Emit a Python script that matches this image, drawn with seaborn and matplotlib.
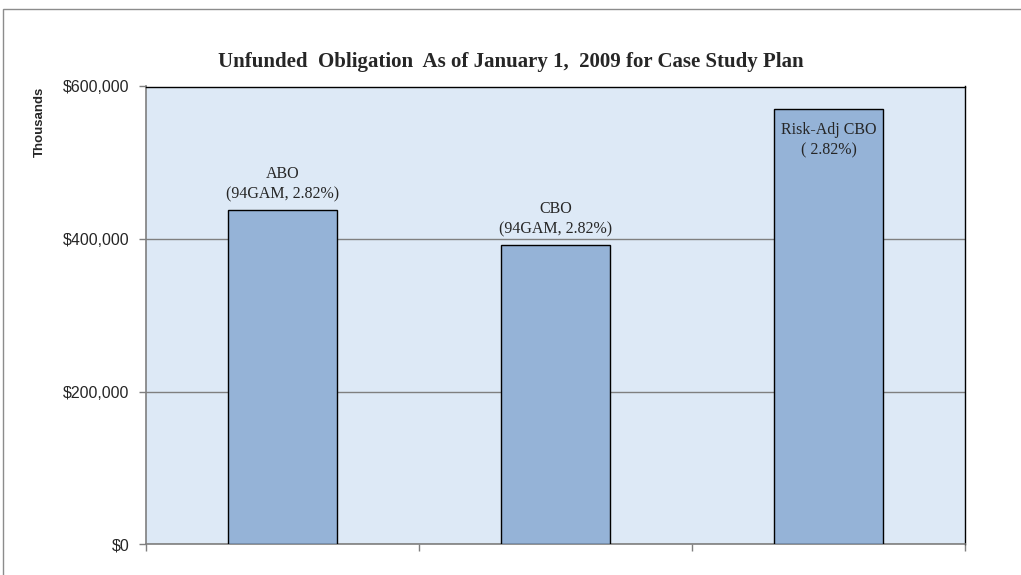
import matplotlib
matplotlib.use("Agg")
import matplotlib.pyplot as plt
import matplotlib.ticker as mticker
from matplotlib.patches import Rectangle
import seaborn as sns
import pandas as pd

# ── data (thousands of dollars) ──────────────────────────────
categories = ["ABO", "CBO", "Risk-Adj CBO"]
values = [438000, 392000, 570000]
bar_labels = ["ABO\n(94GAM, 2.82%)", "CBO\n(94GAM, 2.82%)", "Risk-Adj CBO\n( 2.82%)"]
y_ticks = [0, 200000, 400000, 600000]

df = pd.DataFrame({"plan": categories, "value": values})

sns.set_theme(style="white")
plt.rcParams["font.family"] = ["Liberation Sans", "DejaVu Sans"]

fig = plt.figure(figsize=(10.21, 5.75), dpi=100)
ax = fig.add_axes([146 / 1021, 1 - 544 / 575, 819 / 1021, 457.5 / 575])

# outer chart-area border (runs off the right / bottom edge)
fig.patches.append(Rectangle((3 / 1021, -0.05), 1.1, 1 - 9 / 575 + 0.05,
                             transform=fig.transFigure, fill=False,
                             edgecolor="#8c8c8c", linewidth=1.0))

ax.set_facecolor("#dde9f6")
sns.barplot(data=df, x="plan", y="value", ax=ax, width=0.4,
            color="#95b3d7", edgecolor="black", linewidth=1.0,
            saturation=1, zorder=3)

ax.set_ylim(0, 600000)
ax.set_xlim(-0.5, 2.5)
ax.set_yticks(y_ticks)
ax.yaxis.set_major_formatter(mticker.FuncFormatter(lambda v, p: f"${v:,.0f}"))
ax.grid(axis="y", color="#7f7f7f", linewidth=1.0, zorder=1)
ax.set_axisbelow(True)

# category ticks sit at the boundaries, no labels
ax.set_xticks([-0.5, 0.5, 1.5, 2.5])
ax.set_xticklabels([])
ax.set_xlabel("")
ax.tick_params(axis="x", bottom=True, length=5, color="#7f7f7f", width=1)
ax.tick_params(axis="y", left=True, length=5, color="#7f7f7f", width=1,
               labelsize=11.5, pad=7)

for side in ["left", "bottom"]:
    ax.spines[side].set_color("#7f7f7f")
    ax.spines[side].set_linewidth(1.2)
for side in ["top", "right"]:
    ax.spines[side].set_color("black")
    ax.spines[side].set_linewidth(1.0)

ax.set_ylabel("Thousands", loc="top", fontsize=9.5, fontweight="bold", labelpad=12)

# labels above bars (last one sits inside its bar)
offsets = [10000, 10000, -16000]
for i, (v, lab, off) in enumerate(zip(values, bar_labels, offsets)):
    va = "bottom" if off > 0 else "top"
    ax.text(i, v + off, lab, ha="center", va=va, fontsize=11.5,
            family="Liberation Serif", linespacing=1.4, zorder=4)

fig.text(0.5, 1 - 62 / 575, "Unfunded  Obligation  As of January 1,  2009 for Case Study Plan",
         ha="center", va="center", fontsize=15, fontweight="bold",
         family="Liberation Serif")

fig.savefig("out.png", dpi=100)
